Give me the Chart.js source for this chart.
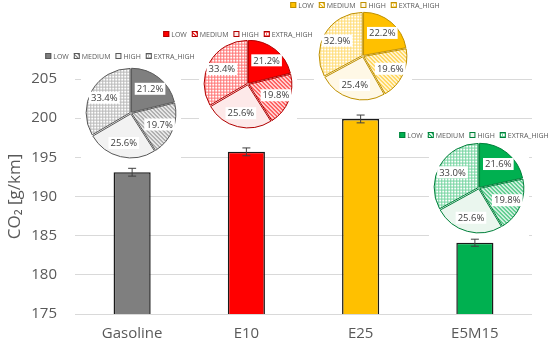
<!DOCTYPE html>
<html>
<head>
<meta charset="utf-8">
<script src="https://cdn.jsdelivr.net/npm/chart.js@4"></script>
<style>
body { margin: 0; background: #fff; }
#wrap { position: relative; width: 550px; height: 344px; }
#wrap canvas { position: absolute; }
</style>
</head>
<body>
<div id="wrap">
  <canvas id="bars" width="550" height="344" style="left:0;top:0"></canvas>
</div>
<script>
const fuels = ['Gasoline', 'E10', 'E25', 'E5M15']
const co2 = [193.1, 195.7, 199.9, 184.1]
const co2Err = [0.5, 0.5, 0.5, 0.45]
const yTicks = [175, 180, 185, 190, 195, 200, 205]

const bands = ['LOW', 'MEDIUM', 'HIGH', 'EXTRA_HIGH']
const shareGasoline = [21.2, 19.7, 25.6, 33.4]
const shareE10 = [21.2, 19.8, 25.6, 33.4]
const shareE25 = [22.2, 19.6, 25.4, 32.9]
const shareE5M15 = [21.6, 19.8, 25.6, 33.0]

const barColors = ['#7f7f7f', '#ff0000', '#ffc000', '#00b050']
const pieColors = [
    { main: '#7f7f7f', dark: '#595959', light: '#f2f2f2' },
    { main: '#ff0000', dark: '#b00000', light: '#fde9e9' },
    { main: '#ffc000', dark: '#bf9000', light: '#fff8e6' },
    { main: '#00b050', dark: '#00803a', light: '#eaf6ee' }
]
// where each inset pie sits on the page (legend centre, pie centre, radius)
const pieSpots = [
    { lx: 120, ly: 56, px: 131, py: 113, r: 44 },
    { lx: 238, ly: 34, px: 248, py: 84, r: 43 },
    { lx: 365, ly: 5, px: 363, py: 56, r: 43 },
    { lx: 474, ly: 135, px: 479, py: 188, r: 44 }
]

const grey = '#595959'
const wrap = document.querySelector('#wrap')

function hatch(color) {
    const c = document.createElement('canvas')
    c.width = 4; c.height = 4
    const g = c.getContext('2d')
    g.fillStyle = '#fff'
    g.fillRect(0, 0, 4, 4)
    g.strokeStyle = color
    g.lineWidth = 1.2
    g.beginPath()
    g.moveTo(-1, -1); g.lineTo(5, 5)
    g.moveTo(-1, 3); g.lineTo(1, 5)
    g.moveTo(3, -1); g.lineTo(5, 1)
    g.stroke()
    return g.createPattern(c, 'repeat')
}

function grid(color) {
    const c = document.createElement('canvas')
    c.width = 3; c.height = 3
    const g = c.getContext('2d')
    g.fillStyle = '#fff'
    g.fillRect(0, 0, 3, 3)
    g.fillStyle = color
    g.globalAlpha = 0.55
    g.fillRect(0, 0, 3, 1)
    g.fillRect(0, 1, 1, 2)
    return g.createPattern(c, 'repeat')
}

const errorBars = {
    id: 'errorBars',
    afterDatasetsDraw(chart) {
        const ctx = chart.ctx
        const y = chart.scales.y
        chart.getDatasetMeta(0).data.forEach((bar, i) => {
            const top = y.getPixelForValue(co2[i] + co2Err[i])
            const bot = y.getPixelForValue(co2[i] - co2Err[i])
            ctx.save()
            ctx.strokeStyle = '#404040'
            ctx.lineWidth = 1
            ctx.beginPath()
            ctx.moveTo(bar.x, top); ctx.lineTo(bar.x, bot)
            ctx.moveTo(bar.x - 4, top); ctx.lineTo(bar.x + 4, top)
            ctx.moveTo(bar.x - 4, bot); ctx.lineTo(bar.x + 4, bot)
            ctx.stroke()
            ctx.restore()
        })
    }
}

new Chart(document.querySelector('#bars').getContext('2d'), {
    type: 'bar',
    data: {
        labels: fuels,
        datasets: [{
            data: co2,
            backgroundColor: barColors,
            borderColor: '#1a1a1a',
            borderWidth: 1.5,
            borderSkipped: false,
            barPercentage: 0.325,
            categoryPercentage: 1
        }]
    },
    options: {
        responsive: false,
        animation: false,
        layout: { padding: { top: 79, right: 18, left: 0, bottom: 0 } },
        plugins: { legend: { display: false }, tooltip: { enabled: false } },
        scales: {
            x: {
                grid: { display: false, drawTicks: false },
                border: { display: false },
                ticks: { color: grey, font: { family: 'Open Sans', size: 15 }, padding: 11 },
                afterFit(s) { s.height = 30 }
            },
            y: {
                min: yTicks[0],
                max: yTicks[yTicks.length - 1],
                afterBuildTicks(s) { s.ticks = yTicks.map(v => ({ value: v })) },
                grid: { color: '#d9d9d9', drawTicks: false },
                border: { display: false },
                ticks: { color: grey, font: { family: 'Open Sans', size: 15 }, padding: 18 },
                title: {
                    display: true,
                    text: 'CO₂ [g/km]',
                    color: grey,
                    font: { family: 'Open Sans', size: 17 },
                    padding: { top: 5, bottom: 0 }
                },
                afterFit(s) { s.width = 75 }
            }
        }
    },
    plugins: [errorBars]
})

const pieExtras = {
    id: 'pieExtras',
    beforeDraw(chart, args, o) {
        const ctx = chart.ctx
        ctx.save()
        ctx.fillStyle = '#fff'
        ctx.fillRect(o.cx - o.r - 6, o.cy - o.r - 6, 2 * o.r + 12, 2 * o.r + 12)
        ctx.restore()
    },
    afterDatasetsDraw(chart, args, o) {
        const ctx = chart.ctx
        const values = chart.data.datasets[0].data
        ctx.save()
        ctx.font = '9.5px "Open Sans"'
        ctx.textAlign = 'center'
        ctx.textBaseline = 'middle'
        chart.getDatasetMeta(0).data.forEach((arc, i) => {
            const p = arc.getProps(['x', 'y', 'startAngle', 'endAngle', 'outerRadius'], true)
            const mid = (p.startAngle + p.endAngle) / 2
            const d = p.outerRadius * 0.7
            const tx = p.x + Math.cos(mid) * d
            const ty = p.y + Math.sin(mid) * d
            const text = values[i].toFixed(1) + '%'
            const w = ctx.measureText(text).width + 4
            ctx.fillStyle = '#fff'
            ctx.fillRect(tx - w / 2, ty - 6, w, 12)
            ctx.fillStyle = '#404040'
            ctx.fillText(text, tx, ty + 0.5)
        })
        ctx.restore()
    },
    afterDraw(chart, args, o) {
        const ctx = chart.ctx
        const ds = chart.data.datasets[0]
        const box = 6, gap = 2, space = 5
        ctx.save()
        ctx.font = '7px "Open Sans"'
        ctx.textBaseline = 'middle'
        const widths = chart.data.labels.map(t => box + gap + ctx.measureText(t).width)
        const total = widths.reduce((a, b) => a + b, 0) + space * (widths.length - 1)
        let x = o.lx - total / 2
        ctx.fillStyle = '#fff'
        ctx.fillRect(x - 2, o.ly - 6, total + 4, 12)
        chart.data.labels.forEach((t, i) => {
            ctx.fillStyle = ds.backgroundColor[i]
            ctx.fillRect(x, o.ly - box / 2, box, box)
            ctx.strokeStyle = ds.borderColor
            ctx.lineWidth = 1
            ctx.strokeRect(x + 0.5, o.ly - box / 2 + 0.5, box - 1, box - 1)
            ctx.fillStyle = grey
            ctx.fillText(t, x + box + gap, o.ly + 0.5)
            x += widths[i] + space
        })
        ctx.restore()
    }
}

function drawPie(values, colors, spot) {
    const W = 160
    const T = spot.ly - 8
    const H = spot.py + spot.r + 8 - T
    const L = spot.lx - W / 2
    const dx = spot.px - spot.lx
    const padTop = 2 * (spot.py - T) - H

    const canvas = document.createElement('canvas')
    canvas.width = W
    canvas.height = H
    canvas.style.left = L + 'px'
    canvas.style.top = T + 'px'
    wrap.appendChild(canvas)

    new Chart(canvas.getContext('2d'), {
        type: 'pie',
        data: {
            labels: bands,
            datasets: [{
                data: values,
                backgroundColor: [colors.main, hatch(colors.main), colors.light, grid(colors.main)],
                borderColor: colors.dark,
                borderWidth: 1,
                offset: 3.5,
                radius: spot.r
            }]
        },
        options: {
            responsive: false,
            animation: false,
            layout: { padding: { top: padTop, left: Math.max(0, 2 * dx), right: Math.max(0, -2 * dx), bottom: 0 } },
            plugins: {
                legend: { display: false },
                tooltip: { enabled: false },
                pieExtras: { lx: W / 2, ly: 8, cx: spot.px - L, cy: spot.py - T, r: spot.r }
            }
        },
        plugins: [pieExtras]
    })
}

drawPie(shareGasoline, pieColors[0], pieSpots[0])
drawPie(shareE10, pieColors[1], pieSpots[1])
drawPie(shareE25, pieColors[2], pieSpots[2])
drawPie(shareE5M15, pieColors[3], pieSpots[3])
</script>
</body>
</html>
